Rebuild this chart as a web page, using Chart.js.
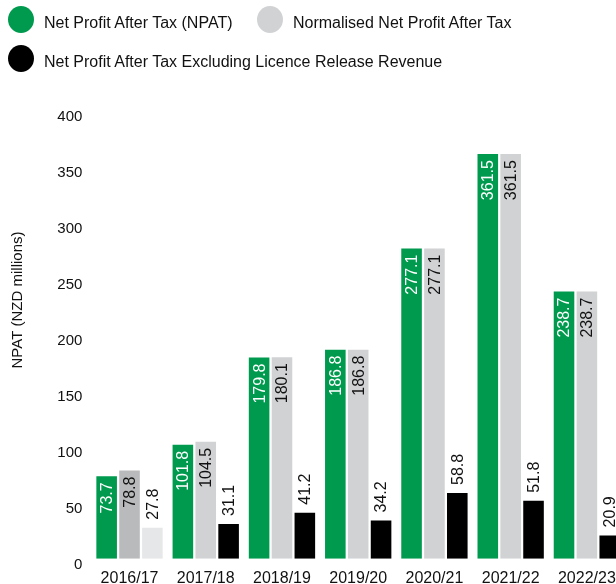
<!DOCTYPE html>
<html>
<head>
<meta charset="utf-8">
<script src="https://cdn.jsdelivr.net/npm/chart.js@4"></script>
<style>
  html, body { margin: 0; padding: 0; background: #fff; overflow: hidden; }
  body { width: 616px; height: 584px; position: relative; font-family: "Liberation Sans", Arial, sans-serif; color: #111; }
  #wrap { position: absolute; left: 0; top: 0; width: 640px; height: 602px; }
  .legend-item { position: absolute; display: flex; align-items: center; font-size: 16px; white-space: nowrap; }
  .legend-dot { display: inline-block; width: 26px; height: 27px; border-radius: 50%; margin-right: 10px; }
  .legend-item span.txt { position: relative; top: 3px; }
</style>
</head>
<body>
<div id="wrap"><canvas id="chart"></canvas></div>
<div id="legend"></div>
<script>
// Data
const years = ["2016/17", "2017/18", "2018/19", "2019/20", "2020/21", "2021/22", "2022/23"];
const npat = [73.7, 101.8, 179.8, 186.8, 277.1, 361.5, 238.7];
const normalised = [78.8, 104.5, 180.1, 186.8, 277.1, 361.5, 238.7];
const excludingLicence = [27.8, 31.1, 41.2, 34.2, 58.8, 51.8, 20.9];
const yTicks = [0, 50, 100, 150, 200, 250, 300, 350, 400];
const yTitle = "NPAT (NZD millions)";

const seriesNames = [
    "Net Profit After Tax (NPAT)",
    "Normalised Net Profit After Tax",
    "Net Profit After Tax Excluding Licence Release Revenue"
];

const GREEN = "#009a4e";
const GREY = "#d1d2d4";
const BLACK = "#000000";
const FONT = "'Liberation Sans', Arial, sans-serif";

// first year is shaded differently in the source
const greyColors = years.map((y, i) => i === 0 ? "#b9babc" : GREY);
const blackColors = years.map((y, i) => i === 0 ? "#e6e7e8" : BLACK);

// Legend (html)
const legendPos = [
    { left: 8, top: 6 },
    { left: 257, top: 6 },
    { left: 8, top: 45 }
];
const legendColors = [GREEN, GREY, BLACK];
const legendEl = document.getElementById("legend");
seriesNames.forEach((name, i) => {
    const item = document.createElement("div");
    item.className = "legend-item";
    item.style.left = legendPos[i].left + "px";
    item.style.top = legendPos[i].top + "px";
    item.innerHTML = '<span class="legend-dot" style="background:' + legendColors[i] + '"></span><span class="txt">' + name + '</span>';
    legendEl.appendChild(item);
});

// Rotated value labels + axis title
const barLabels = {
    id: "barLabels",
    afterDatasetsDraw(chart) {
        const ctx = chart.ctx;
        ctx.save();
        ctx.font = "16px " + FONT;
        ctx.textBaseline = "middle";
        chart.data.datasets.forEach((ds, di) => {
            const meta = chart.getDatasetMeta(di);
            meta.data.forEach((bar, i) => {
                const txt = ds.data[i].toFixed(1);
                ctx.save();
                if (di < 2) {
                    // inside the bar, from the top down
                    ctx.translate(bar.x, bar.y + 6);
                    ctx.rotate(-Math.PI / 2);
                    ctx.textAlign = "right";
                    ctx.fillStyle = di === 0 ? "#ffffff" : "#111111";
                } else {
                    // above the bar
                    ctx.translate(bar.x, bar.y - 8);
                    ctx.rotate(-Math.PI / 2);
                    ctx.textAlign = "left";
                    ctx.fillStyle = "#111111";
                }
                ctx.fillText(txt, 0, 1);
                ctx.restore();
            });
        });

        // y title sits a bit above the middle of the axis
        ctx.font = "15px " + FONT;
        ctx.fillStyle = "#111111";
        ctx.textAlign = "center";
        ctx.translate(18, 300);
        ctx.rotate(-Math.PI / 2);
        ctx.fillText(yTitle, 0, 0);
        ctx.restore();
    }
};

const ctx = document.getElementById("chart").getContext("2d");
new Chart(ctx, {
    type: "bar",
    data: {
        labels: years,
        datasets: [
            { label: seriesNames[0], data: npat, backgroundColor: GREEN },
            { label: seriesNames[1], data: normalised, backgroundColor: greyColors },
            { label: seriesNames[2], data: excludingLicence, backgroundColor: blackColors }
        ]
    },
    options: {
        responsive: true,
        maintainAspectRatio: false,
        animation: false,
        layout: { padding: { top: 111, right: 15, left: 0, bottom: 4 } },
        datasets: { bar: { categoryPercentage: 0.9, barPercentage: 0.9 } },
        plugins: {
            legend: { display: false },
            tooltip: { enabled: false }
        },
        scales: {
            x: {
                grid: { display: false, drawTicks: false },
                border: { display: false },
                ticks: { color: "#111", font: { family: FONT, size: 16 }, padding: 10, maxRotation: 0, autoSkip: false }
            },
            y: {
                min: 0,
                max: 400,
                afterFit(scale) { scale.width = 91.4; },
                afterBuildTicks(scale) { scale.ticks = yTicks.map(v => ({ value: v })); },
                grid: { display: false, drawTicks: false },
                border: { display: false },
                ticks: { color: "#111", font: { family: FONT, size: 15 }, padding: 9, labelOffset: 6 }
            }
        }
    },
    plugins: [barLabels]
});
</script>
</body>
</html>
